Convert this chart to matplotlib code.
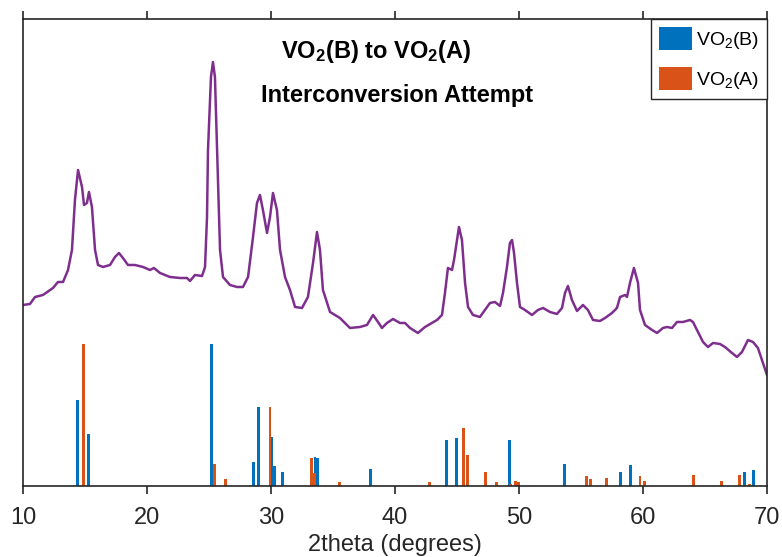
import matplotlib.pyplot as plt
from matplotlib.patches import Patch

plt.rcParams['font.family'] = ['Liberation Sans', 'DejaVu Sans']
plt.rcParams['mathtext.fontset'] = 'custom'
plt.rcParams['mathtext.rm'] = 'Liberation Sans'
plt.rcParams['mathtext.bf'] = 'Liberation Sans:bold'
plt.rcParams['mathtext.default'] = 'rm'

# measured pattern (a.u.)
two_theta = [10.0, 10.56, 10.97, 11.61, 12.42, 12.82, 13.23, 13.63, 13.95, 14.19,
             14.44, 14.76, 14.92, 15.16, 15.32, 15.56, 15.81, 16.05, 16.45, 17.02,
             17.42, 17.74, 18.06, 18.47, 19.03, 19.68, 20.24, 20.56, 21.05, 21.85,
             22.66, 23.23, 23.47, 23.87, 24.44, 24.68, 24.84, 24.92, 25.16, 25.32,
             25.48, 25.65, 25.89, 26.13, 26.69, 27.26, 27.74, 28.15, 28.55, 28.87,
             29.11, 29.35, 29.68, 29.92, 30.16, 30.48, 30.73, 31.13, 31.53, 31.94,
             32.5, 32.98, 33.39, 33.71, 33.95, 34.19, 34.76, 35.56, 36.37, 37.18,
             37.74, 38.23, 38.63, 38.95, 39.35, 39.84, 40.4, 40.81, 41.21, 41.85,
             42.42, 42.98, 43.39, 43.79, 44.03, 44.27, 44.6, 44.76, 45.0, 45.16,
             45.4, 45.65, 45.89, 46.29, 46.85, 47.26, 47.66, 48.06, 48.47, 48.71,
             49.03, 49.27, 49.44, 49.6, 49.84, 50.08, 50.48, 51.05, 51.53, 51.94,
             52.5, 53.06, 53.47, 53.71, 53.95, 54.27, 54.68, 55.16, 55.56, 55.97,
             56.53, 56.94, 57.5, 57.9, 58.15, 58.55, 58.71, 58.95, 59.27, 59.6,
             59.76, 60.16, 60.73, 61.13, 61.61, 61.94, 62.34, 62.74, 63.23, 63.79,
             64.03, 64.44, 64.84, 65.24, 65.65, 66.21, 66.61, 67.18, 67.58, 67.98,
             68.47, 68.87, 69.27, 69.68, 70.0]
intensity = [181, 182, 189, 191, 198, 204, 204, 216, 236, 286,
             316, 299, 281, 283, 294, 279, 236, 221, 219, 221,
             229, 233, 228, 221, 221, 219, 216, 218, 213, 209,
             208, 208, 205, 211, 210, 219, 269, 336, 409, 424,
             409, 336, 236, 209, 201, 199, 199, 209, 249, 283,
             291, 276, 253, 269, 293, 276, 236, 209, 196, 179,
             178, 189, 223, 254, 236, 196, 174, 168, 158, 159,
             161, 171, 164, 158, 163, 167, 163, 163, 158, 153,
             159, 163, 166, 171, 193, 218, 216, 226, 246, 259,
             246, 203, 179, 171, 169, 176, 183, 184, 180, 193,
             219, 243, 246, 233, 203, 179, 176, 171, 176, 178,
             174, 172, 178, 193, 200, 186, 175, 181, 176, 166,
             165, 168, 173, 178, 189, 191, 189, 203, 218, 203,
             176, 161, 156, 153, 158, 159, 158, 164, 164, 166,
             164, 154, 144, 139, 143, 142, 139, 133, 129, 134,
             146, 144, 138, 123, 111]

# reference lines, relative intensity (%)
b_pos = [14.38, 15.32, 25.24, 28.6, 29.03, 30.05, 30.3, 30.94, 33.55, 33.76,
         38.04, 44.17, 44.97, 49.22, 53.65, 58.15, 59.0, 68.2, 68.9]
b_int = [60.6, 36.6, 100, 16.9, 55.6, 34.5, 14.1, 9.9, 20.4, 19.7,
         12.0, 32.4, 33.8, 32.4, 15.5, 9.9, 14.8, 9.9, 11.3]
a_pos = [14.9, 25.46, 26.3, 29.92, 33.28, 33.5, 35.56, 42.77, 45.54, 45.83,
         47.31, 48.2, 49.33, 49.68, 49.95, 55.46, 55.73, 57.02, 59.76, 60.16,
         64.11, 66.35, 67.77, 68.6]
a_int = [100, 15.5, 4.9, 55.6, 19.7, 9.2, 2.8, 2.8, 40.8, 21.8,
         9.9, 2.8, 1.4, 3.5, 2.8, 7.0, 4.9, 5.6, 7.0, 3.5,
         7.7, 3.5, 7.7, 1.4]

blue = '#0072BD'
orange = '#D95319'
purple = '#7E2F8E'
scale = 1.42  # 100 % on the same axis as the pattern

fig = plt.figure(figsize=(7.82, 5.57), dpi=100)
ax = fig.add_axes([0.0294, 0.1275, 0.9514, 0.8384])

ax.bar(b_pos, [v * scale for v in b_int], width=0.24, color=blue)
ax.bar(a_pos, [v * scale for v in a_int], width=0.24, color=orange)
ax.plot(two_theta, intensity, color=purple, lw=1.8)

ax.set_xlim(10, 70)
ax.set_ylim(0, 467)
ax.set_xticks(range(10, 71, 10))
ax.set_yticks([])
ax.tick_params(axis='x', direction='out', length=6, width=1.2, top=True,
               labelsize=17, colors='#262626', pad=9)
for s in ax.spines.values():
    s.set_linewidth(1.2)
    s.set_color('#262626')
ax.set_xlabel('2theta (degrees)', fontsize=17, color='#262626', labelpad=4)

ax.text(0.4745, 0.9165, r'VO$_\mathbf{2}$(B) to VO$_\mathbf{2}$(A)', transform=ax.transAxes,
        ha='center', va='baseline', fontsize=17, fontweight='bold')
ax.text(0.503, 0.822, 'Interconversion Attempt', transform=ax.transAxes,
        ha='center', va='baseline', fontsize=17, fontweight='bold')

handles = [Patch(facecolor=blue, label=r'VO$_2$(B)'),
           Patch(facecolor=orange, label=r'VO$_2$(A)')]
leg = ax.legend(handles=handles, loc='upper right', bbox_to_anchor=(1, 1),
                borderaxespad=0, fontsize=14, fancybox=False, framealpha=1,
                handlelength=1.7, handleheight=1.45, handletextpad=0.2,
                borderpad=0.4, labelspacing=0.85)
leg.get_frame().set_edgecolor('#262626')
leg.get_frame().set_linewidth(1.0)

plt.savefig('out.png', dpi=100)
